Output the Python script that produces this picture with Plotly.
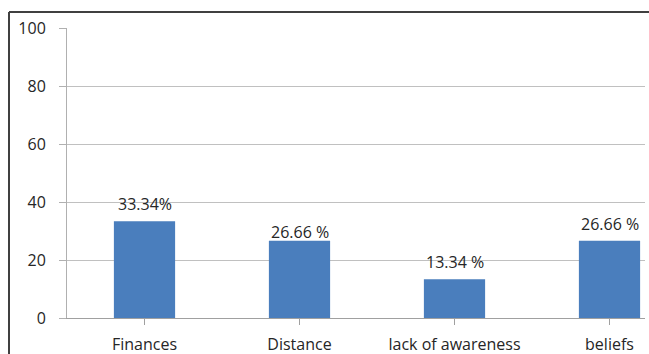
import plotly.graph_objects as go

categories = ["Finances", "Distance", "lack of awareness", "beliefs"]
values = [33.34, 26.66, 13.34, 26.66]
value_labels = ["33.34%", "26.66 %", "13.34 %", "26.66 %"]
y_ticks = [0, 20, 40, 60, 80, 100]

# style / layout constants
W, H = 649, 354
ML, MT, MB, MR = 67, 28, 36, 4
label_shift = [4, -4, 4, 4]
FONT = "Open Sans"
TXT = "#262626"

fig = go.Figure()
fig.add_trace(go.Bar(
    x=list(range(len(categories))), y=values,
    marker=dict(color="#4A7EBD", line=dict(width=0)),
    width=0.395,
    hoverinfo="skip",
))

for i, (v, t) in enumerate(zip(values, value_labels)):
    fig.add_annotation(x=i, y=v, text=t, showarrow=False, yanchor="bottom",
                       yshift=label_shift[i], font=dict(family=FONT, size=16, color=TXT))

pw = W - ML - MR
ph = H - MT - MB
def px(xp):
    return (xp - ML) / pw
def py(yp):
    return (H - MB - yp) / ph

border = dict(color="#404040", width=2)
fig.add_shape(type="line", xref="paper", yref="paper", x0=px(9), x1=px(9), y0=py(12), y1=py(H + 5), line=border)
fig.add_shape(type="line", xref="paper", yref="paper", x0=px(9), x1=px(W + 5), y0=py(12), y1=py(12), line=border)

fig.update_layout(
    width=W, height=H,
    margin=dict(l=ML, r=MR, t=MT, b=MB, autoexpand=False),
    paper_bgcolor="white", plot_bgcolor="white",
    showlegend=False,
    font=dict(family=FONT, size=16, color=TXT),
    xaxis=dict(
        range=[-0.5, -0.5 + pw / 155.0],
        tickmode="array", tickvals=list(range(len(categories))), ticktext=categories,
        tickson="boundaries",
        ticks="outside", ticklen=6, tickcolor="#a0a0a0",
        showline=True, linecolor="#a0a0a0", linewidth=1,
        showgrid=False, zeroline=False, automargin=False,
        tickfont=dict(family=FONT, size=16, color=TXT),
        ticklabelstandoff=6,
    ),
    yaxis=dict(
        range=[0, 100], tickvals=y_ticks,
        ticks="outside", ticklen=7, tickcolor="#b0b0b0",
        showline=True, linecolor="#b0b0b0", linewidth=1,
        showgrid=True, gridcolor="#c0c0c0", gridwidth=1,
        zeroline=False, automargin=False,
        tickfont=dict(family=FONT, size=16, color=TXT),
        ticklabelstandoff=10,
    ),
)

fig.write_html("out.html")
